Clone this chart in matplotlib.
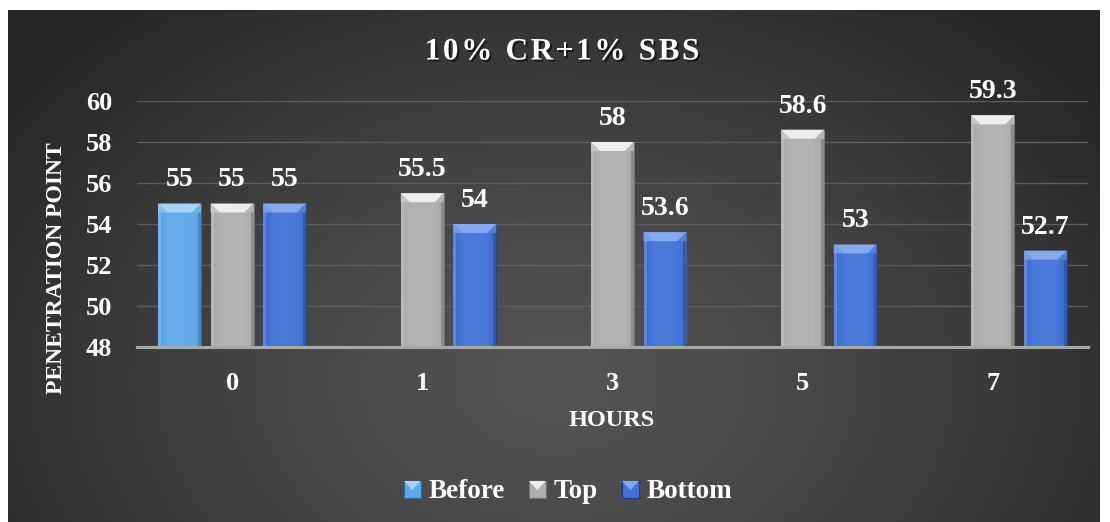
import numpy as np
import matplotlib
matplotlib.use("Agg")
import matplotlib.pyplot as plt
import matplotlib.colors as mcolors
import matplotlib.patheffects as pe
from matplotlib.patches import Rectangle, Polygon
from matplotlib.legend_handler import HandlerBase

# ---- data -------------------------------------------------------------
hours = ["0", "1", "3", "5", "7"]
before = [55, np.nan, np.nan, np.nan, np.nan]
top = [55, 55.5, 58, 58.6, 59.3]
bottom = [55, 54, 53.6, 53, 52.7]
series_names = ["Before", "Top", "Bottom"]
y_ticks = [48, 50, 52, 54, 56, 58, 60]

title_text = "10% CR+1% SBS"
x_title = "HOURS"
y_title = "PENETRATION POINT"

# ---- style ------------------------------------------------------------
FONT = "Liberation Serif"
body_colors = ["#5ea7e8", "#aeaeae", "#3f71d6"]
bevel_colors = ["#a6d4f7", "#eeeeee", "#85a8ee"]
edge_colors = ["#2f6aa8", "#727272", "#1d3f8a"]

W, H = 1110, 522
fig = plt.figure(figsize=(W / 100, H / 100), dpi=100)
fig.patch.set_facecolor("white")

# dark chart area with a soft radial glow
bg = fig.add_axes([8 / W, 0, (1100 - 8) / W, (H - 10) / H])
ny, nx = 260, 550
yy, xx = np.mgrid[0:ny, 0:nx]
cx, cy = 0.50 * nx, 0.72 * ny
r = np.sqrt(((xx - cx) / (0.62 * nx)) ** 2 + ((yy - cy) / (0.95 * ny)) ** 2)
r = np.clip(r, 0, 1)
light = np.array(mcolors.to_rgb("#545454"))
dark = np.array(mcolors.to_rgb("#262626"))
t = r ** 1.3
img = light[None, None, :] * (1 - t[..., None]) + dark[None, None, :] * t[..., None]
bg.imshow(img, extent=[0, 1, 0, 1], aspect="auto", origin="upper", interpolation="bilinear")
bg.set_xlim(0, 1)
bg.set_ylim(0, 1)
bg.axis("off")

# plotting area
ax = fig.add_axes([137 / W, (H - 347) / H, (1088 - 137) / W, (347 - 101) / H])
ax.set_facecolor("none")
ax.set_xlim(-0.5, len(hours) - 0.5)
ax.set_ylim(y_ticks[0], y_ticks[-1])

x = np.arange(len(hours))
step = 0.276
width = 0.226
offsets = [-step, 0.0, step]

px_per_x = (1088 - 137) / len(hours)
px_per_y = (347 - 101) / (y_ticks[-1] - y_ticks[0])
bevel_h = 9 / px_per_y
bevel_in = 9 / px_per_x
side_w = 3 / px_per_x


def shade(color, k):
    c = np.array(mcolors.to_rgb(color))
    if k >= 0:
        return tuple(c + (1 - c) * k)
    return tuple(c * (1 + k))


for s, vals in enumerate([before, top, bottom]):
    bars = ax.bar(x + offsets[s], vals, width=width, bottom=0,
                  color=body_colors[s], edgecolor=edge_colors[s],
                  linewidth=0.6, zorder=3)
    for rect, v in zip(bars.patches, vals):
        if np.isnan(v):
            continue
        x0, w = rect.get_x(), rect.get_width()
        y1 = v
        y0 = y_ticks[0]
        # horizontal shading across the bar body
        u = np.linspace(-1, 1, 64)
        f = 0.06 - 0.16 * np.abs(u) ** 4
        row = np.array([shade(body_colors[s], k) for k in f])
        grad = np.repeat(row[None, :, :], 2, axis=0)
        im = ax.imshow(grad, extent=[x0, x0 + w, y0, y1], aspect="auto",
                       zorder=3.1, interpolation="bilinear")
        im.set_clip_path(rect)
        # lighter left edge, darker right edge
        ax.add_patch(Rectangle((x0, y0), side_w, y1 - y0,
                               facecolor=shade(body_colors[s], 0.25),
                               edgecolor="none", alpha=0.7, zorder=3.15))
        ax.add_patch(Rectangle((x0 + w - side_w, y0), side_w, y1 - y0,
                               facecolor=shade(body_colors[s], -0.25),
                               edgecolor="none", alpha=0.7, zorder=3.15))
        # bevelled top: corner wedges then the bright face
        ax.add_patch(Polygon([(x0, y1), (x0 + w, y1),
                              (x0 + w - bevel_in, y1 - bevel_h),
                              (x0 + bevel_in, y1 - bevel_h)],
                             closed=True, facecolor=bevel_colors[s],
                             edgecolor="none", zorder=3.2))
        ax.add_patch(Polygon([(x0, y1), (x0 + bevel_in, y1 - bevel_h),
                              (x0, y1 - bevel_h)],
                             closed=True, facecolor=shade(body_colors[s], 0.3),
                             edgecolor="none", zorder=3.2))
        ax.add_patch(Polygon([(x0 + w, y1), (x0 + w - bevel_in, y1 - bevel_h),
                              (x0 + w, y1 - bevel_h)],
                             closed=True, facecolor=shade(body_colors[s], 0.1),
                             edgecolor="none", zorder=3.2))
        ax.annotate(f"{v:g}", xy=(x0 + w / 2, v), xytext=(0, 8),
                    textcoords="offset points", ha="center", va="bottom",
                    color="white", fontsize=20, fontweight="bold",
                    family=FONT, zorder=5)

ax.set_xticks(x)
ax.set_xticklabels(hours)
ax.set_yticks(y_ticks)
ax.tick_params(axis="both", length=0, colors="white", labelsize=19)
ax.tick_params(axis="y", pad=18)
ax.tick_params(axis="x", pad=18)
for lab in ax.get_xticklabels() + ax.get_yticklabels():
    lab.set_fontfamily(FONT)
    lab.set_fontweight("bold")
ax.yaxis.grid(True, color="#5e5e5e", linewidth=1.0, zorder=0)
ax.set_axisbelow(True)
for side in ("left", "right", "top"):
    ax.spines[side].set_visible(False)
ax.spines["bottom"].set_color("#a8a8a8")
ax.spines["bottom"].set_linewidth(2.2)
ax.spines["bottom"].set_zorder(4)


def tracked_text(s, xc_px, yc_px, track_px, **kw):
    """Draw a centred line of text with extra spacing between characters."""
    renderer = fig.canvas.get_renderer()

    def ink_width(txt):
        tmp = fig.text(0, 0, txt, **kw)
        wdt = tmp.get_window_extent(renderer).width
        tmp.remove()
        return wdt

    total = ink_width(s) + track_px * (len(s) - 1)
    start = xc_px - total / 2
    for i, ch in enumerate(s):
        if ch == " ":
            continue
        left = ink_width(s[:i + 1]) - ink_width(ch) + track_px * i
        fig.text((start + left) / W, 1 - yc_px / H, ch, ha="left", va="center",
                 **kw)


shadow = [pe.withSimplePatchShadow(offset=(1.5, -1.5), shadow_rgbFace="black",
                                   alpha=0.55)]
tracked_text(title_text, 562, 52, 2.6, color="white", fontsize=22.5,
             fontweight="bold", family=FONT, path_effects=shadow)
fig.text(612 / W, 1 - 420 / H, x_title, ha="center", va="center",
         color="white", fontsize=17.5, fontweight="bold", family=FONT)
fig.text(57 / W, 1 - 268 / H, y_title, ha="center", va="center",
         rotation=90, color="white", fontsize=17, fontweight="bold", family=FONT)


# legend with bevelled square keys
class BevelKey:
    def __init__(self, idx):
        self.idx = idx


class BevelKeyHandler(HandlerBase):
    def create_artists(self, legend, orig_handle, xdescent, ydescent,
                       width, height, fontsize, trans):
        i = orig_handle.idx
        side = min(width, height)
        sq = Rectangle((-xdescent, -ydescent), side, side,
                       facecolor=body_colors[i], edgecolor=edge_colors[i],
                       linewidth=0.8, transform=trans)
        tri = Polygon([(-xdescent, -ydescent + side),
                       (-xdescent + side, -ydescent + side),
                       (-xdescent + side / 2, -ydescent + side * 0.45)],
                      closed=True, facecolor=bevel_colors[i],
                      edgecolor="none", transform=trans)
        return [sq, tri]


handles = [BevelKey(i) for i in range(3)]
leg = fig.legend(handles, series_names, loc="center",
                 bbox_to_anchor=(568 / W, 1 - 492 / H), ncol=3, frameon=False,
                 handler_map={BevelKey: BevelKeyHandler()},
                 handlelength=0.62, handleheight=0.62, handletextpad=0.28,
                 columnspacing=0.9,
                 prop={"family": FONT, "weight": "bold", "size": 19.5})
for txt in leg.get_texts():
    txt.set_color("white")

fig.savefig("out.png", dpi=100, facecolor=fig.get_facecolor())
